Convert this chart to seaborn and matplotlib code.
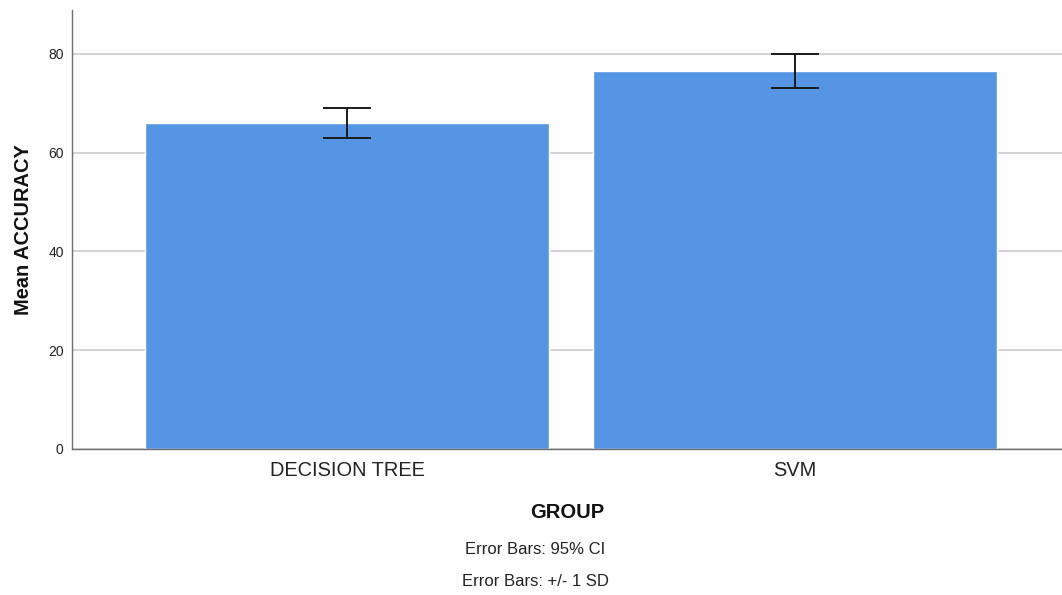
import matplotlib
matplotlib.use("Agg")
import matplotlib.pyplot as plt
import seaborn as sns
import pandas as pd

# values
groups = ["DECISION TREE", "SVM"]
mean_accuracy = [66.0, 76.6]
err_lower = [63.0, 73.1]
err_upper = [69.0, 80.0]
yticks = [0, 20, 40, 60, 80]

sns.set_style("white")
plt.rcParams["font.family"] = ["Liberation Sans", "DejaVu Sans"]

df = pd.DataFrame({"GROUP": groups, "ACCURACY": mean_accuracy})

fig = plt.figure(figsize=(10.62, 5.95), dpi=100)
ax = fig.add_axes([72 / 1062, 146 / 595, 990 / 1062, 439 / 595])

sns.barplot(data=df, x="GROUP", y="ACCURACY", color="#5595E3", saturation=1,
            width=0.9, errorbar=None, ax=ax, zorder=2)

# error bars
for i, (m, lo, hi) in enumerate(zip(mean_accuracy, err_lower, err_upper)):
    ax.errorbar(i, m, yerr=[[m - lo], [hi - m]], fmt="none", ecolor="#1a1a1a",
                elinewidth=1.4, capsize=17.5, capthick=1.4, zorder=3)

ax.set_xlim(-0.614, 1.596)
ax.set_ylim(0, 88.9)
ax.set_yticks(yticks)
ax.yaxis.grid(True, color="#c8c8c8", linewidth=1.1, zorder=0)
ax.set_axisbelow(True)

for s in ["top", "right"]:
    ax.spines[s].set_visible(False)
ax.spines["left"].set_color("#6e6e6e")
ax.spines["bottom"].set_color("#6e6e6e")
ax.spines["left"].set_linewidth(1.0)
ax.spines["bottom"].set_linewidth(1.0)

ax.tick_params(axis="y", length=0, pad=6, labelsize=10, labelcolor="#222222")
ax.tick_params(axis="x", length=0, pad=9, labelsize=14.4, labelcolor="#222222")

ax.set_xlabel("GROUP", fontsize=14.6, fontweight="bold", labelpad=16, color="#111111")
ax.set_ylabel("Mean ACCURACY", fontsize=14.4, fontweight="bold", labelpad=11, color="#111111")

fig.text(535 / 1062, 1 - 549 / 595, "Error Bars: 95% CI", ha="center", va="center",
         fontsize=12, color="#222222")
fig.text(535 / 1062, 1 - 581 / 595, "Error Bars: +/- 1 SD", ha="center", va="center",
         fontsize=12, color="#222222")

fig.savefig("out.png", dpi=100)
